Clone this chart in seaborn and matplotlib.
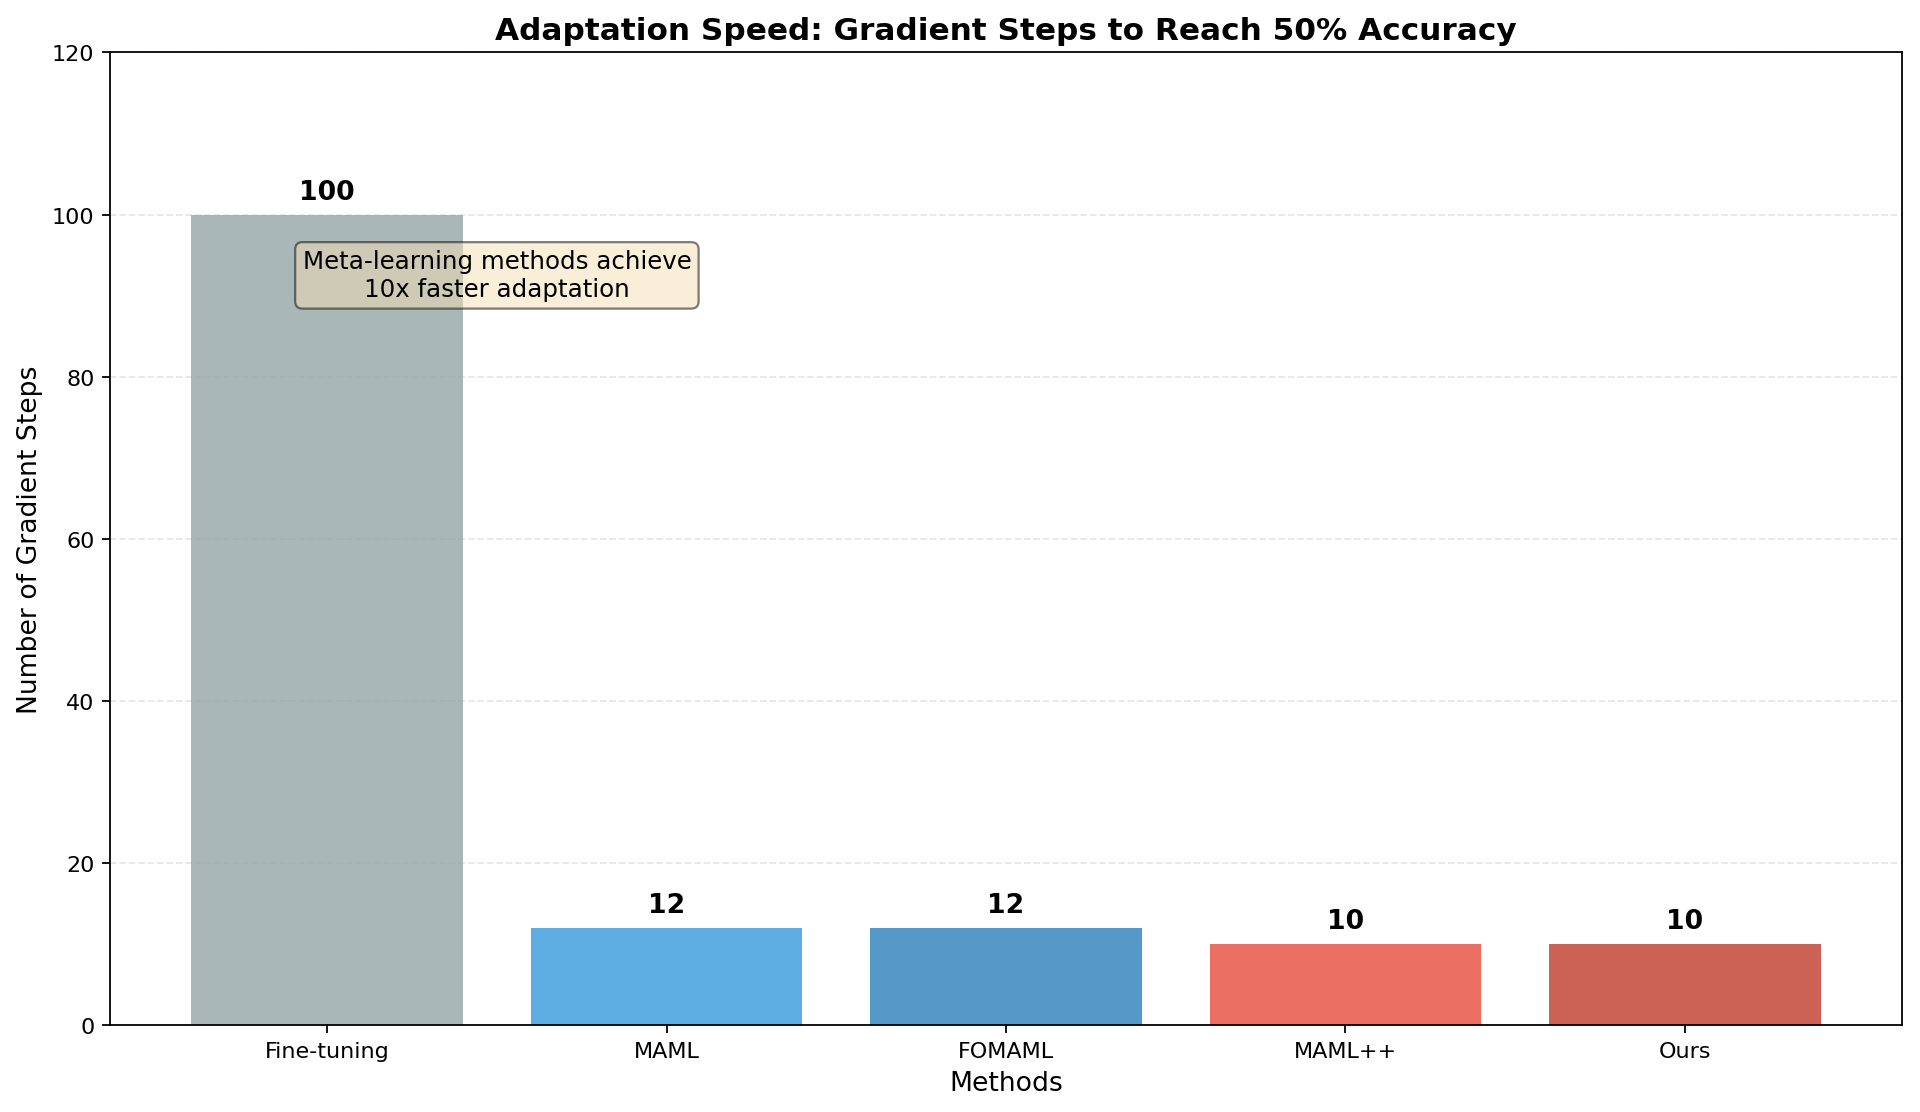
import matplotlib
matplotlib.use("Agg")
import matplotlib.pyplot as plt
import seaborn as sns
import pandas as pd

methods = ["Fine-tuning", "MAML", "FOMAML", "MAML++", "Ours"]
steps = [100, 12, 12, 10, 10]
colors = ["#95a5a6", "#3498db", "#2980b9", "#e74c3c", "#c0392b"]

df = pd.DataFrame({"Method": methods, "Steps": steps})

fig = plt.figure(figsize=(12, 6.956), dpi=160)
ax = fig.add_axes([0.0573, 0.078, 0.9333, 0.874])

sns.barplot(data=df, x="Method", y="Steps", hue="Method", palette=colors,
            alpha=0.8, width=0.8, legend=False, ax=ax, saturation=1)

for i, v in enumerate(steps):
    ax.text(i, v + 1.2, f"{v}", ha="center", va="bottom", fontsize=12, fontweight="bold")

ax.set_xlim(-0.64, 4.64)
ax.set_ylim(0, 120)
ax.set_yticks([0, 20, 40, 60, 80, 100, 120])
ax.yaxis.grid(True, linestyle="--", alpha=0.3)
ax.set_axisbelow(True)
ax.set_xlabel("Methods", fontsize=12)
ax.set_ylabel("Number of Gradient Steps", fontsize=12)
ax.set_title("Adaptation Speed: Gradient Steps to Reach 50% Accuracy", fontsize=14, fontweight="bold")
ax.tick_params(labelsize=10)

ax.text(0.5, 92.5, "Meta-learning methods achieve\n10x faster adaptation", ha="center", va="center",
        fontsize=11, bbox=dict(boxstyle="round", facecolor="wheat", alpha=0.5))

fig.savefig("out.png", dpi=160)
